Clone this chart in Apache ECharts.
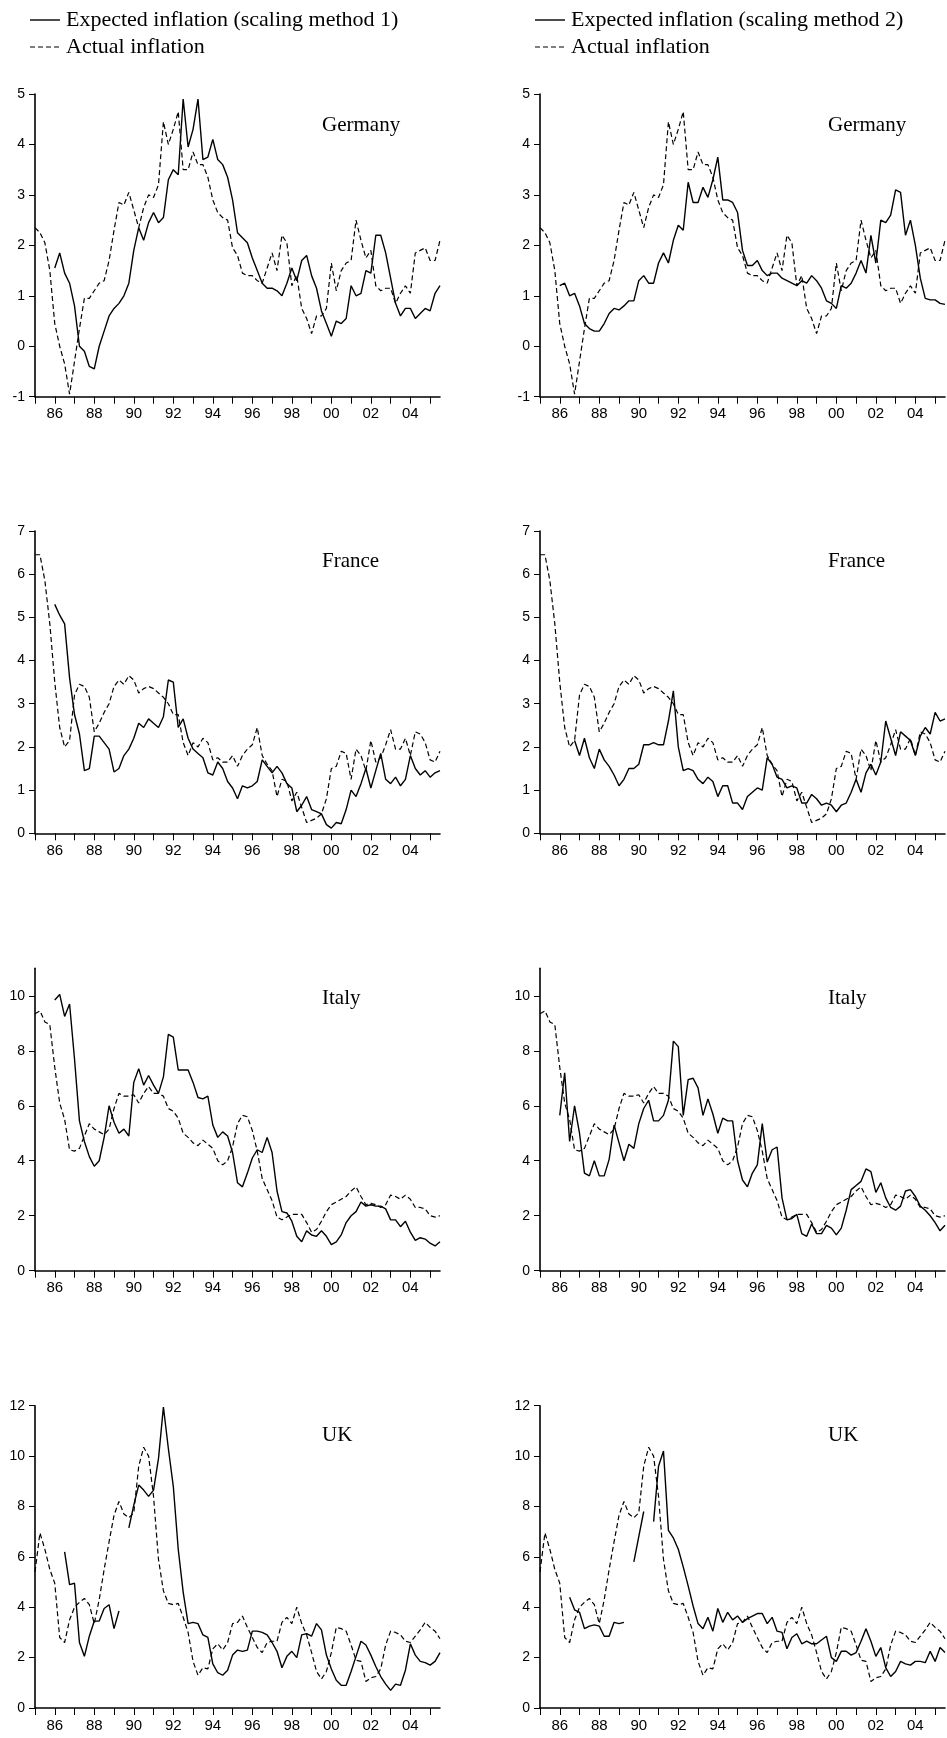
<!DOCTYPE html>
<html><head><meta charset="utf-8">
<script src="https://cdn.jsdelivr.net/npm/echarts@6/dist/echarts.min.js"></script>
<style>html,body{margin:0;padding:0;background:#fff}#c{width:947px;height:1738px}</style>
</head><body><div id="c"></div>
<script>
// quarterly categories 1985Q1 .. 2005Q3 (83 observations)
const quarters = [];
for (let y = 1985; y <= 2005; y++) for (let q = 1; q <= 4; q++) if (quarters.length < 83) quarters.push(y + 'Q' + q);

const countries = ['Germany', 'France', 'Italy', 'UK'];
const legendExp1 = 'Expected inflation (scaling method 1)';
const legendExp2 = 'Expected inflation (scaling method 2)';
const legendAct = 'Actual inflation';

// y axis ranges per country
const yMin = [-1, 0, 0, 0];
const yMax = [5, 7, 11, 12];
const yStep = [1, 1, 2, 2];
const yTickValues = [null, null, [0, 2, 4, 6, 8, 10], null];

// ---------- Germany ----------
const deActual = [2.35,2.25,2.05,1.5,0.45,0.0,-0.35,-0.95,-0.3,0.35,
0.95,0.95,1.1,1.25,1.3,1.7,2.3,2.85,2.8,3.05,
2.7,2.35,2.75,3.0,2.95,3.2,4.45,4.0,4.3,4.65,
3.5,3.5,3.85,3.6,3.6,3.35,2.9,2.65,2.55,2.5,
1.95,1.8,1.45,1.4,1.4,1.3,1.25,1.55,1.85,1.5,
2.2,2.05,1.2,1.4,0.75,0.55,0.25,0.6,0.6,0.75,
1.65,1.1,1.5,1.65,1.7,2.5,2.1,1.75,1.9,1.2,
1.1,1.15,1.15,0.85,1.05,1.2,1.05,1.85,1.9,1.95,
1.7,1.7,2.1];
const deExp1 = [null,null,null,null,1.55,1.85,1.45,1.25,0.8,0.0,
-0.1,-0.4,-0.45,0.0,0.3,0.6,0.75,0.85,1.0,1.25,
1.9,2.35,2.1,2.45,2.65,2.45,2.55,3.3,3.5,3.4,
4.9,3.95,4.3,4.9,3.7,3.75,4.1,3.7,3.6,3.35,
2.9,2.25,2.15,2.05,1.75,1.5,1.25,1.15,1.15,1.1,
1.0,1.25,1.55,1.3,1.7,1.8,1.4,1.15,0.7,0.45,
0.2,0.5,0.45,0.55,1.2,1.0,1.05,1.5,1.45,2.2,
2.2,1.85,1.35,0.85,0.6,0.75,0.75,0.55,0.65,0.75,
0.7,1.05,1.2];
const deExp2 = [null,null,null,null,1.2,1.25,1.0,1.05,0.8,0.45,
0.35,0.3,0.3,0.45,0.65,0.75,0.72,0.8,0.9,0.9,
1.3,1.4,1.25,1.25,1.65,1.85,1.65,2.1,2.4,2.3,
3.25,2.85,2.85,3.15,2.95,3.3,3.75,2.9,2.9,2.85,
2.65,1.9,1.6,1.6,1.7,1.5,1.4,1.45,1.45,1.35,
1.3,1.25,1.2,1.3,1.25,1.4,1.3,1.15,0.9,0.85,
0.75,1.2,1.15,1.25,1.45,1.7,1.45,2.2,1.65,2.5,
2.45,2.6,3.1,3.05,2.2,2.5,2.0,1.35,0.95,0.92,
0.92,0.85,0.83];

// ---------- France ----------
const frActual = [6.45,6.45,5.85,4.85,3.5,2.45,2.0,2.15,3.2,3.45,
3.4,3.15,2.35,2.55,2.8,3.0,3.4,3.55,3.45,3.65,
3.55,3.25,3.35,3.4,3.35,3.25,3.15,3.0,2.75,2.75,
2.1,1.8,2.1,2.0,2.2,2.1,1.7,1.75,1.65,1.65,
1.8,1.55,1.8,1.95,2.05,2.45,1.8,1.6,1.45,0.85,
1.25,1.2,0.75,0.95,0.6,0.25,0.3,0.35,0.45,0.8,
1.5,1.55,1.9,1.85,1.25,1.95,1.8,1.45,2.15,1.65,
1.75,2.05,2.4,1.95,1.95,2.2,1.8,2.35,2.3,2.1,
1.7,1.65,1.9];
const frExp1 = [null,null,null,null,5.3,5.05,4.85,3.6,2.75,2.3,
1.45,1.5,2.25,2.25,2.1,1.95,1.42,1.5,1.8,1.95,
2.2,2.55,2.45,2.65,2.55,2.45,2.7,3.55,3.5,2.45,
2.65,2.2,1.95,1.85,1.75,1.4,1.35,1.65,1.5,1.2,
1.05,0.8,1.1,1.05,1.1,1.2,1.7,1.55,1.4,1.55,
1.4,1.15,1.05,0.5,0.65,0.85,0.55,0.5,0.45,0.2,
0.12,0.25,0.22,0.55,1.0,0.85,1.15,1.5,1.05,1.45,
1.85,1.25,1.15,1.3,1.1,1.25,1.8,1.5,1.35,1.45,
1.3,1.4,1.45];
const frExp2 = [null,null,null,null,null,null,null,2.15,1.8,2.2,
1.75,1.5,1.95,1.7,1.55,1.35,1.1,1.25,1.5,1.5,
1.6,2.05,2.05,2.1,2.05,2.05,2.6,3.3,2.0,1.45,
1.5,1.45,1.25,1.15,1.3,1.2,0.85,1.1,1.1,0.7,
0.7,0.55,0.85,0.95,1.05,1.0,1.75,1.6,1.3,1.25,
1.05,1.1,1.05,0.7,0.7,0.9,0.8,0.65,0.7,0.65,
0.5,0.65,0.7,0.95,1.25,0.95,1.4,1.6,1.35,1.65,
2.6,2.2,1.8,2.35,2.25,2.15,1.8,2.25,2.45,2.3,
2.8,2.6,2.65];

// ---------- Italy ----------
const itActual = [9.35,9.45,9.05,8.95,7.4,6.1,5.5,4.4,4.35,4.45,
4.9,5.35,5.15,5.05,4.95,5.15,5.9,6.45,6.35,6.35,
6.4,6.1,6.45,6.7,6.45,6.45,6.35,5.9,5.8,5.55,
5.0,4.85,4.65,4.55,4.75,4.6,4.45,4.0,3.85,4.0,
4.5,5.35,5.65,5.6,5.1,4.35,3.35,2.95,2.55,1.95,
1.85,1.95,2.05,2.05,2.05,1.75,1.4,1.5,1.8,2.15,
2.4,2.5,2.6,2.7,2.9,3.05,2.7,2.4,2.45,2.4,
2.3,2.4,2.75,2.7,2.6,2.75,2.6,2.3,2.3,2.25,
2.0,1.95,2.0];
const itExp1 = [null,null,null,null,9.85,10.05,9.25,9.7,7.7,5.45,
4.7,4.15,3.8,4.0,4.85,6.0,5.4,5.0,5.15,4.9,
6.85,7.35,6.75,7.1,6.75,6.45,7.05,8.6,8.5,7.3,
7.3,7.3,6.85,6.3,6.25,6.35,5.3,4.85,5.05,4.9,
4.3,3.2,3.05,3.55,4.1,4.4,4.3,4.85,4.3,2.9,
2.15,2.1,1.8,1.25,1.05,1.45,1.3,1.25,1.45,1.25,
0.95,1.05,1.3,1.75,2.0,2.15,2.5,2.35,2.4,2.35,
2.35,2.25,1.85,1.85,1.6,1.8,1.4,1.1,1.2,1.15,
1.0,0.9,1.05];
const itExp2 = [null,null,null,null,5.65,7.2,4.7,6.0,5.0,3.55,
3.45,4.0,3.45,3.45,4.05,5.3,4.65,4.0,4.6,4.45,
5.35,5.9,6.2,5.45,5.45,5.65,6.2,8.35,8.15,5.65,
6.95,7.0,6.65,5.65,6.25,5.7,5.0,5.55,5.45,5.45,
4.0,3.3,3.05,3.55,3.85,5.35,3.95,4.4,4.5,2.65,
1.85,1.9,2.05,1.35,1.25,1.7,1.35,1.35,1.65,1.55,
1.3,1.55,2.2,2.95,3.1,3.25,3.7,3.6,2.85,3.2,
2.65,2.3,2.2,2.35,2.9,2.95,2.7,2.35,2.2,2.0,
1.75,1.45,1.65];

// ---------- UK ----------
const ukActual = [5.4,6.95,6.3,5.5,4.95,2.8,2.6,3.5,4.0,4.2,
4.35,4.1,3.35,4.3,5.5,6.6,7.65,8.2,7.7,7.55,
7.75,9.6,10.35,10.0,8.4,5.9,4.65,4.15,4.1,4.15,
3.6,3.0,1.85,1.3,1.6,1.55,2.35,2.55,2.3,2.6,
3.35,3.4,3.65,3.2,2.8,2.4,2.2,2.6,2.65,2.65,
3.4,3.6,3.35,4.0,3.35,2.9,2.2,1.45,1.15,1.45,
2.2,3.2,3.15,3.05,2.5,1.9,1.85,1.05,1.2,1.25,
1.55,2.5,3.05,3.0,2.9,2.65,2.6,2.85,3.1,3.4,
3.2,3.05,2.75];
const ukExp1 = [null,null,null,null,null,null,6.2,4.9,4.95,2.6,
2.05,2.85,3.45,3.45,3.95,4.1,3.15,3.85,null,7.15,
8.05,8.85,8.65,8.4,8.65,9.9,11.95,10.3,8.8,6.3,
4.6,3.35,3.4,3.35,2.9,2.8,1.75,1.4,1.3,1.5,
2.1,2.3,2.25,2.3,3.05,3.05,3.0,2.9,2.6,2.25,
1.6,2.05,2.25,2.0,2.9,2.95,2.85,3.35,3.1,2.1,
1.55,1.1,0.9,0.9,1.45,2.05,2.65,2.5,2.1,1.65,
1.25,0.95,0.7,0.95,0.9,1.5,2.55,2.1,1.85,1.8,
1.7,1.85,2.2];
const ukExp2 = [null,null,null,null,null,null,4.4,3.9,3.8,3.15,
3.25,3.3,3.25,2.85,2.85,3.4,3.35,3.4,null,5.8,
6.8,7.8,null,7.4,9.6,10.2,7.05,6.75,6.3,5.6,
4.85,4.05,3.35,3.15,3.6,3.05,3.95,3.4,3.8,3.5,
3.65,3.4,3.55,3.65,3.75,3.75,3.35,3.6,3.05,3.0,
2.35,2.8,2.95,2.55,2.65,2.55,2.55,2.7,2.85,2.0,
1.85,2.25,2.25,2.1,2.2,2.65,3.15,2.65,2.05,2.4,
1.6,1.25,1.45,1.85,1.75,1.7,1.85,1.85,1.8,2.25,
1.85,2.4,2.2];

const actualSeries = [deActual, frActual, itActual, ukActual];
const expSeries = [[deExp1, deExp2], [frExp1, frExp2], [itExp1, itExp2], [ukExp1, ukExp2]];

// ---------- layout ----------
const colLeft = [35, 540];
const plotWidth = 405;
const rowTop = [94, 531, 968.3, 1405.7];
const rowBottom = [396.7, 833.3, 1270.7, 1708];
const labelX = [322, 828];
const labelBaseline = [132, 568, 1005, 1442];

const BLACK = '#000';
const SANS = '"Liberation Sans", Arial, sans-serif';
const SERIF = '"Liberation Serif", "Times New Roman", serif';

const grids = [], xAxes = [], yAxes = [], series = [], graphics = [];
let k = 0;
for (let r = 0; r < 4; r++) {
  for (let c = 0; c < 2; c++) {
    grids.push({ left: colLeft[c], width: plotWidth, top: rowTop[r], height: rowBottom[r] - rowTop[r], containLabel: false });
    xAxes.push({
      type: 'category', gridIndex: k, data: quarters, boundaryGap: false,
      axisLine: { show: true, onZero: false, lineStyle: { color: BLACK, width: 1.6 } },
      axisTick: { show: true, inside: false, length: 7, interval: (i) => i % 4 === 0, lineStyle: { color: BLACK, width: 1 } },
      axisLabel: { show: true, interval: (i) => i % 8 === 4, formatter: (v) => v.slice(2, 4), color: BLACK, fontFamily: SANS, fontSize: 15, margin: 10 },
      splitLine: { show: false }
    });
    const ya = {
      type: 'value', gridIndex: k, min: yMin[r], max: yMax[r], interval: yStep[r],
      axisLine: { show: true, onZero: false, lineStyle: { color: BLACK, width: 1.6 } },
      axisTick: { show: true, inside: false, length: 6, lineStyle: { color: BLACK, width: 1 } },
      axisLabel: { show: true, color: BLACK, fontFamily: SANS, fontSize: 14, margin: 10 },
      splitLine: { show: false }
    };
    if (yTickValues[r]) {
      ya.axisTick.customValues = yTickValues[r];
      ya.axisLabel.customValues = yTickValues[r];
    }
    yAxes.push(ya);
    series.push({
      type: 'line', xAxisIndex: k, yAxisIndex: k, data: actualSeries[r], name: legendAct,
      showSymbol: false, symbol: 'none', connectNulls: false, silent: true,
      lineStyle: { color: BLACK, width: 1.2, type: [5, 3] }, itemStyle: { color: BLACK }
    });
    series.push({
      type: 'line', xAxisIndex: k, yAxisIndex: k, data: expSeries[r][c], name: c === 0 ? legendExp1 : legendExp2,
      showSymbol: false, symbol: 'none', connectNulls: false, silent: true,
      lineStyle: { color: BLACK, width: 1.4, type: 'solid' }, itemStyle: { color: BLACK }
    });
    graphics.push({
      type: 'text', left: labelX[c], top: labelBaseline[r] - 17,
      style: { text: countries[r], fill: BLACK, font: '21px ' + SERIF }
    });
    k++;
  }
}

// legends (top)
const legX = [[30, 60, 66], [535, 565, 571]];
const legText = [legendExp1, legendExp2];
for (let c = 0; c < 2; c++) {
  graphics.push({ type: 'line', shape: { x1: legX[c][0], y1: 20, x2: legX[c][1], y2: 20 }, style: { stroke: BLACK, lineWidth: 1.4 } });
  graphics.push({ type: 'text', left: legX[c][2], top: 9, style: { text: legText[c], fill: BLACK, font: '22px ' + SERIF } });
  graphics.push({ type: 'line', shape: { x1: legX[c][0], y1: 47, x2: legX[c][1], y2: 47 }, style: { stroke: BLACK, lineWidth: 1.2, lineDash: [5, 3] } });
  graphics.push({ type: 'text', left: legX[c][2], top: 36, style: { text: legendAct, fill: BLACK, font: '22px ' + SERIF } });
}

// sanity check on series lengths
const all = [deActual, deExp1, deExp2, frActual, frExp1, frExp2, itActual, itExp1, itExp2, ukActual, ukExp1, ukExp2];
const names = ['deA','deE1','deE2','frA','frE1','frE2','itA','itE1','itE2','ukA','ukE1','ukE2'];
const bad = all.map((a, i) => a.length !== 83 ? names[i] + ':' + a.length : null).filter(Boolean);
if (bad.length) graphics.push({ type: 'text', left: 400, top: 60, style: { text: 'LEN ' + bad.join(' '), fill: 'red', font: '16px sans-serif' } });

const chart = echarts.init(document.getElementById('c'), null, { renderer: 'canvas' });
chart.setOption({
  animation: false,
  backgroundColor: '#fff',
  grid: grids, xAxis: xAxes, yAxis: yAxes, series: series,
  graphic: graphics
});
</script>
</body></html>
